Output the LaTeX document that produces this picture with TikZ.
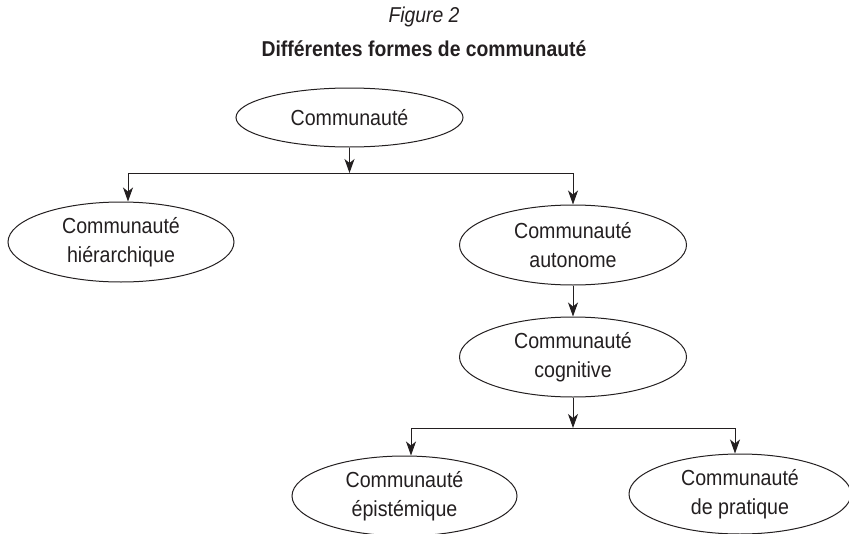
\documentclass[tikz,border=0pt]{standalone}
\usepackage{fontspec}
\setmainfont{Liberation Sans}[FakeStretch=0.9]
\usetikzlibrary{shapes.geometric,arrows.meta}
\definecolor{ink}{RGB}{35,31,32}
\begin{document}
\begin{tikzpicture}[x=1pt,y=1pt,
  oval/.style={ellipse,draw=ink,line width=1pt,inner sep=0pt,minimum width=227pt,minimum height=80pt,align=center,text=ink,font=\fontsize{21.8}{29}\selectfont},
  conn/.style={draw=ink,line width=1pt},
  arr/.style={conn,-{Stealth[length=14pt,width=10pt,inset=4pt]}}]
\useasboundingbox (0,0) rectangle (849,-533);
\node[text=ink,font=\itshape\fontsize{21.5}{24}\selectfont] (t1) at (424,-17) {Figure 2};
\node[text=ink,font=\bfseries\fontsize{21.5}{24}\selectfont] (t2) at (424,-49) {Différentes formes de communauté};
\node[oval,minimum height=59pt] (top) at (349.5,-117.5) {Communauté};
\node[oval,minimum width=226pt] (hier) at (121,-242) {Communauté\\hiérarchique};
\node[oval] (auto) at (573,-245) {Communauté\\autonome};
\node[oval] (cog) at (573,-357) {Communauté\\cognitive};
\node[oval,minimum width=225pt] (epi) at (404.5,-496) {Communauté\\épistémique};
\node[oval,minimum width=222pt] (prat) at (740,-494) {Communauté\\de pratique};
\coordinate (j1) at (349.5,-173);
\coordinate (j1l) at (128,-173);
\coordinate (j1r) at (573,-173);
\coordinate (j2) at (573,-428);
\coordinate (j2l) at (411,-428);
\coordinate (j2r) at (735,-428);
\draw[arr] (top.south) -- (j1);
\draw[conn] (j1l) -- (j1r);
\draw[arr] (j1l) -- (j1l |- hier.north);
\draw[arr] (j1r) -- (auto.north);
\draw[arr] (auto.south) -- (cog.north);
\draw[arr] (cog.south) -- (j2);
\draw[conn] (j2l) -- (j2r);
\draw[arr] (j2l) -- (j2l |- epi.north);
\draw[arr] (j2r) -- (j2r |- prat.north);
\end{tikzpicture}
\end{document}
